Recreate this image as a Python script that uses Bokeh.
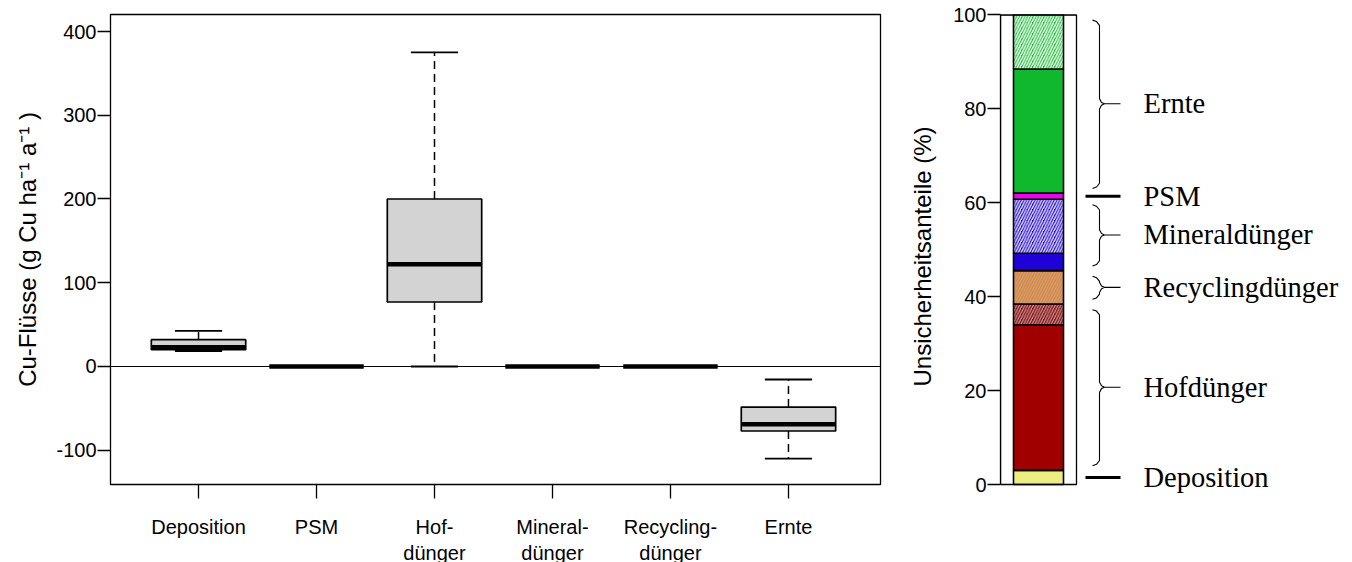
import numpy as np
from bokeh.plotting import figure
from bokeh.models import Range1d, FixedTicker, Span, ColumnDataSource
from bokeh.layouts import row
from bokeh.core.properties import value
from bokeh.embed import file_html
from bokeh.resources import INLINE

# ---------------- data: left boxplot ----------------
categories = ["Deposition", "PSM", "Hofdünger", "Mineraldünger", "Recyclingdünger", "Ernte"]
tick_labels = ["Deposition", "PSM", "Hof-\ndünger", "Mineral-\ndünger", "Recycling-\ndünger", "Ernte"]
whisker_low = [18.5, 0, 0, 0, 0, -110]
q1 = [20, 0, 77, 0, 0, -77]
median = [23, 0, 122, 0, 0, -69]
q3 = [32, 0, 200, 0, 0, -48.5]
whisker_high = [42.5, 0, 375, 0, 0, -15.5]
y_ticks = [-100, 0, 100, 200, 300, 400]

# ---------------- data: right stacked bar ----------------
seg_names = ["Deposition", "Hofdünger", "Hofdünger (schraffiert)", "Recyclingdünger (schraffiert)",
             "Mineraldünger", "Mineraldünger (schraffiert)", "PSM", "Ernte", "Ernte (schraffiert)"]
seg_group = ["Deposition", "Hofdünger", "Hofdünger", "Recyclingdünger",
             "Mineraldünger", "Mineraldünger", "PSM", "Ernte", "Ernte"]
seg_values = [3.0, 31.0, 4.4, 7.1, 3.7, 11.5, 1.3, 26.4, 11.6]
seg_fill = ["#EEEE80", "#A00000", "#A00000", "#F5821F", "#2000D8", "#2000D8", "#F000F0", "#10B82E", "#10B82E"]
seg_hatch = [" ", " ", "/", "/", " ", "/", " ", " ", "/"]
seg_hatch_color = ["#A8A8A8", "#A8A8A8", "#A8A8A8", "#A8A8A8", "#E0E0F4", "#E0E0F4", "#FFFFFF", "#F4FFF4", "#F4FFF4"]
seg_hatch_weight = [1.2, 1.2, 1.2, 1.1, 1.4, 1.4, 1.4, 1.5, 1.5]
group_order = ["Deposition", "PSM", "Hofdünger", "Mineraldünger", "Recyclingdünger", "Ernte"]
pct_ticks = [0, 20, 40, 60, 80, 100]

SANS = "Liberation Sans"
SERIF = "Liberation Serif"

# ---------------- left figure ----------------
p = figure(width=900, height=562, frame_width=770, frame_height=470,
           min_border_left=110, min_border_right=20, min_border_top=14, min_border_bottom=78,
           x_range=Range1d(0.254, 6.78), y_range=Range1d(-140.9, 420.3),
           output_backend="svg", toolbar_location=None)
p.background_fill_color = "white"
p.border_fill_color = "white"
p.outline_line_color = "black"
p.outline_line_width = 1.3
p.grid.visible = False

xs = np.arange(1, len(categories) + 1)
zero = Span(location=0, dimension="width", line_color="black", line_width=1.2, level="underlay")
p.add_layout(zero)

bw = 0.4
p.segment(x0=xs, y0=q3, x1=xs, y1=whisker_high, line_color="black", line_width=1.5, line_dash="8 5")
p.segment(x0=xs, y0=q1, x1=xs, y1=whisker_low, line_color="black", line_width=1.5, line_dash="8 5")
p.segment(x0=xs - bw / 2, y0=whisker_high, x1=xs + bw / 2, y1=whisker_high, line_color="black", line_width=1.8)
p.segment(x0=xs - bw / 2, y0=whisker_low, x1=xs + bw / 2, y1=whisker_low, line_color="black", line_width=1.8)
p.quad(left=xs - bw, right=xs + bw, bottom=q1, top=q3, fill_color="#D3D3D3", line_color="black", line_width=1.7)
p.segment(x0=xs - bw, y0=median, x1=xs + bw, y1=median, line_color="black", line_width=4.5, line_cap="butt")

p.xaxis.ticker = FixedTicker(ticks=list(xs))
p.xaxis.major_label_overrides = {int(i): lab for i, lab in zip(xs, tick_labels)}
p.xaxis.major_tick_out = 14
p.xaxis.major_tick_in = 0
p.xaxis.minor_tick_line_color = None
p.xaxis.axis_line_color = "black"
p.xaxis.major_tick_line_color = "black"
p.xaxis.major_tick_line_width = 1.3
p.xaxis.major_label_standoff = 17
p.xaxis.major_label_text_font = SANS
p.xaxis.major_label_text_font_size = "20px"
p.xaxis.major_label_text_color = "black"

p.yaxis.ticker = FixedTicker(ticks=y_ticks)
p.yaxis.major_label_overrides = {t: str(t) for t in y_ticks}
p.yaxis.major_tick_out = 13
p.yaxis.major_tick_in = 0
p.yaxis.minor_tick_line_color = None
p.yaxis.major_tick_line_width = 1.3
p.yaxis.major_label_standoff = 1
p.yaxis.major_label_text_font = SANS
p.yaxis.major_label_text_font_size = "20px"
p.yaxis.major_label_text_color = "black"
p.yaxis.axis_label = "Cu-Flüsse (g Cu ha⁻¹ a⁻¹ )"
p.yaxis.axis_label_text_font = SANS
p.yaxis.axis_label_text_font_size = "24px"
p.yaxis.axis_label_text_font_style = "normal"
p.yaxis.axis_label_text_color = "black"
p.yaxis.axis_label_standoff = 12

# ---------------- right figure ----------------
ppu_r = 4.7
pad = 14 / ppu_r
q = figure(width=452, height=562, frame_width=352, frame_height=484,
           min_border_left=100, min_border_right=0, min_border_top=14, min_border_bottom=64,
           x_range=Range1d(0, 352), y_range=Range1d(-pad, 100),
           output_backend="svg", toolbar_location=None)
q.outline_line_color = None
q.grid.visible = False
q.xaxis.visible = False
q.background_fill_color = "white"
q.border_fill_color = "white"

tops = np.cumsum(seg_values)
bottoms = tops - np.array(seg_values)
src = ColumnDataSource(dict(bottom=bottoms, top=tops, fill=seg_fill, hatch=seg_hatch,
                            hcol=seg_hatch_color, hw=seg_hatch_weight, name=seg_names))
q.quad(left=13, right=63, bottom="bottom", top="top", source=src, fill_color="fill",
       hatch_pattern="hatch", hatch_color="hcol", hatch_scale=5.5, hatch_weight="hw",
       line_color="black", line_width=1.6)
# frame box
q.quad(left=0, right=76, bottom=0, top=100, fill_color=None, line_color="black", line_width=1.3)
q.segment(x0=0, x1=76, y0=100, y1=100, line_color="black", line_width=2.6)

q.yaxis.ticker = FixedTicker(ticks=pct_ticks)
q.yaxis.bounds = (0, 100)
q.yaxis.major_tick_out = 13
q.yaxis.major_tick_in = 0
q.yaxis.minor_tick_line_color = None
q.yaxis.major_tick_line_width = 1.3
q.yaxis.axis_line_width = 1.3
q.yaxis.major_label_standoff = 1
q.yaxis.major_label_text_font = SANS
q.yaxis.major_label_text_font_size = "20px"
q.yaxis.major_label_text_color = "black"
q.yaxis.axis_label = "Unsicherheitsanteile (%)"
q.yaxis.axis_label_text_font = SANS
q.yaxis.axis_label_text_font_size = "24px"
q.yaxis.axis_label_text_font_style = "normal"
q.yaxis.axis_label_text_color = "black"
q.yaxis.axis_label_standoff = 14

# braces and labels derived from group extents
brace_xs, brace_ys = [], []
dash_y = []
lab_y, lab_t = [], []
for g in group_order:
    idx = [i for i, s in enumerate(seg_group) if s == g]
    lo = float(min(bottoms[i] for i in idx))
    hi = float(max(tops[i] for i in idx))
    m = (lo + hi) / 2
    lab_y.append(m)
    lab_t.append(g)
    if hi - lo < 5:
        dash_y.append(m)
    else:
        t = hi - 1.2
        b = lo + 1.0
        brace_xs.append([92, 96, 99, 99, 101, 104, 120, 104, 101, 99, 99, 96, 92])
        brace_ys.append([t, t - 0.3, t - 1.1, m + 1.1, m + 0.3, m, m, m, m - 0.3, m - 1.1, b + 1.1, b + 0.3, b])

q.multi_line(xs=brace_xs, ys=brace_ys, line_color="black", line_width=1.1)
q.segment(x0=85, x1=120, y0=dash_y, y1=dash_y, line_color="black", line_width=3)
q.text(x=143, y=lab_y, text=lab_t, text_font=value(SERIF), text_font_size="28.5px",
       text_baseline="middle", text_align="left", text_color="black")

layout = row(p, q)
open("out.html", "w").write(file_html(layout, INLINE))
